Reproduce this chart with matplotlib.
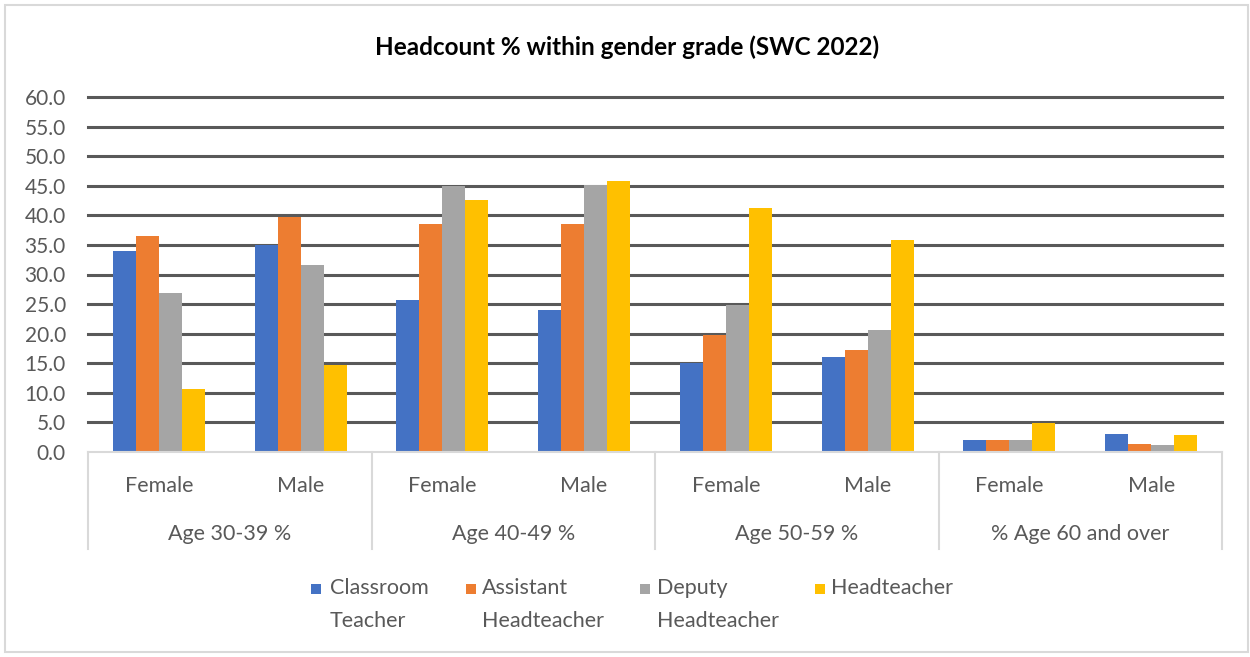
import matplotlib
matplotlib.use("Agg")
import matplotlib.pyplot as plt
from matplotlib.patches import Rectangle
from matplotlib.lines import Line2D
import numpy as np

# Chart data
age_groups = ["Age 30-39 %", "Age 40-49 %", "Age 50-59 %", "% Age 60 and over"]
genders = ["Female", "Male"]
series_names = ["Classroom\nTeacher", "Assistant\nHeadteacher", "Deputy\nHeadteacher", "Headteacher"]
series_colors = ["#4472C4", "#ED7D31", "#A5A5A5", "#FFC000"]

classroom_teacher = [34.0, 35.0, 25.7, 24.0, 15.0, 16.0, 2.0, 3.0]
assistant_head = [36.5, 39.8, 38.5, 38.5, 19.8, 17.2, 2.0, 1.4]
deputy_head = [26.8, 31.6, 45.0, 45.2, 24.9, 20.6, 2.0, 1.1]
headteacher = [10.6, 14.7, 42.6, 45.8, 41.2, 35.8, 4.9, 2.8]

yticks = [0, 5, 10, 15, 20, 25, 30, 35, 40, 45, 50, 55, 60]
title = "Headcount % within gender grade (SWC 2022)"

plt.rcParams["font.family"] = ["Lato", "DejaVu Sans"]

W, H = 1250, 657
fig = plt.figure(figsize=(W / 100, H / 100), dpi=100)
fig.patch.set_facecolor("white")

# outer chart frame
fig.add_artist(Rectangle((5 / W, 5 / H), 1243 / W, 647 / H, transform=fig.transFigure,
                         fill=False, edgecolor="#D9D9D9", linewidth=1.5))

left, right, top, bottom = 88, 1222, 97, 452
ax = fig.add_axes([left / W, 1 - bottom / H, (right - left) / W, (bottom - top) / H])

series = [classroom_teacher, assistant_head, deputy_head, headteacher]
n_cat = len(age_groups) * len(genders)
x = np.arange(n_cat)
bw = 0.1625
for i, (vals, col) in enumerate(zip(series, series_colors)):
    ax.bar(x + (i - 1.5) * bw, vals, width=bw, color=col, linewidth=0, zorder=3)

ax.set_xlim(-0.5, n_cat - 0.5)
ax.set_ylim(0, 60)
ax.set_yticks(yticks)
ax.set_yticklabels([f"{v:.1f}" for v in yticks], fontsize=15, color="#595959")
ax.tick_params(axis="y", length=0, pad=16)
ax.set_xticks([])
for s in ax.spines.values():
    s.set_visible(False)

# horizontal gridlines
for v in yticks[1:]:
    ax.axhline(v, color="#595959", linewidth=2.2, zorder=1, clip_on=False)
ax.axhline(0, color="#D9D9D9", linewidth=1.5, zorder=4, clip_on=False)

# hierarchical category axis
tr = ax.get_xaxis_transform()
h_px = bottom - top
y_inner = -(486 - bottom) / h_px
y_outer = -(534 - bottom) / h_px
y_sep = -(549 - bottom) / h_px
for k, grp in enumerate(age_groups):
    for j, g in enumerate(genders):
        ax.text(2 * k + j, y_inner, g, transform=tr, ha="center", va="center",
                fontsize=15.5, color="#595959")
    ax.text(2 * k + 0.5, y_outer, grp, transform=tr, ha="center", va="center",
            fontsize=15.5, color="#595959")
for b in np.arange(-0.5, n_cat, 2.0):
    ax.add_line(Line2D([b, b], [0, y_sep], transform=tr, color="#D9D9D9",
                       linewidth=1.5, clip_on=False))

fig.text(627 / W, 1 - 47 / H, title, ha="center", va="center", fontsize=17.5,
         fontweight="bold", color="black")

# legend
sq_x = [311, 466, 640, 815]
txt_x = [330, 482, 657, 831]
for sx, tx, name, col in zip(sq_x, txt_x, series_names, series_colors):
    fig.add_artist(Rectangle((sx / W, 1 - 594 / H), 10 / W, 10 / H,
                             transform=fig.transFigure, color=col, linewidth=0))
    fig.text(tx / W, 1 - 578 / H, name, ha="left", va="top", fontsize=15.5,
             color="#595959", linespacing=1.8)

fig.savefig("out.png", dpi=100, facecolor="white")
